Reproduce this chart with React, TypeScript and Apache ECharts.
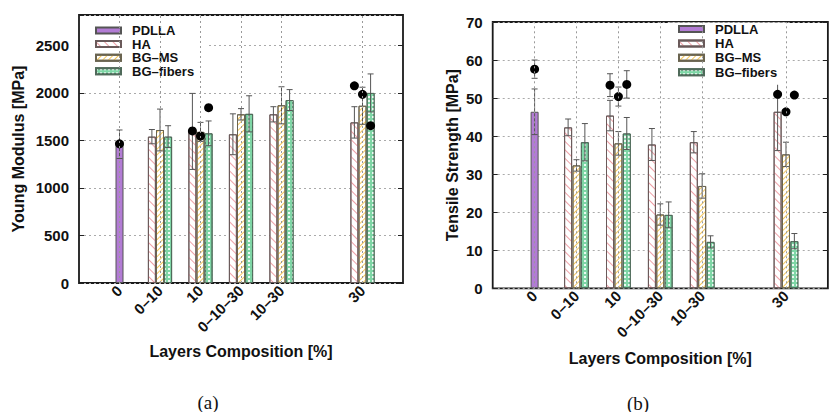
import React, { useEffect, useRef } from "react";
import * as echarts from "echarts";

// ---------- data ----------
const CATEGORIES = ["0", "0–10", "10", "0–10–30", "10–30", "30"];
const CAT_POS = [1, 2, 3, 4, 5, 7];
const SERIES_NAMES = ["PDLLA", "HA", "BG–MS", "BG–fibers"];

// Young modulus [MPa], aligned with CATEGORIES
const YM_PDLLA = [1460, null, null, null, null, null];
const YM_PDLLA_ERR = [150, null, null, null, null, null];
const YM_HA = [null, 1540, 1595, 1565, 1775, 1690];
const YM_HA_ERR = [null, 75, 400, 215, 80, 165];
const YM_BGMS = [null, 1610, 1590, 1775, 1870, 1865];
const YM_BGMS_ERR = [null, 220, 100, 60, 195, 195];
const YM_FIB = [null, 1540, 1575, 1780, 1925, 2000];
const YM_FIB_ERR = [null, 115, 130, 190, 110, 200];
// measured points (black dots)
const YM_DOT_PDLLA = [1465, null, null, null, null, null];
const YM_DOT_HA = [null, null, 1600, null, null, 2075];
const YM_DOT_BGMS = [null, null, 1547, null, null, 1985];
const YM_DOT_FIB = [null, null, 1845, null, null, 1655];

// Tensile strength [MPa]
const TS_PDLLA = [46.4, null, null, null, null, null];
const TS_PDLLA_ERR = [6, null, null, null, null, null];
const TS_HA = [null, 42.3, 45.4, 37.8, 38.4, 46.4];
const TS_HA_ERR = [null, 2.2, 4, 4.2, 2.8, 10.2];
const TS_BGMS = [null, 32.3, 38.1, 19.4, 26.9, 35.2];
const TS_BGMS_ERR = [null, 1.5, 3.1, 2.8, 3.2, 3.2];
const TS_FIB = [null, 38.4, 40.7, 19.3, 12.2, 12.4];
const TS_FIB_ERR = [null, 4.9, 4.2, 3.4, 1.6, 2.0];
const TS_DOT_PDLLA = [57.6, null, null, null, null, null];
const TS_DOT_PDLLA_ERR = [2.4, null, null, null, null, null];
const TS_DOT_HA = [null, null, 53.4, null, null, 51.0];
const TS_DOT_HA_ERR = [null, null, 3, null, null, null];
const TS_DOT_BGMS = [null, null, 50.4, null, null, 46.4];
const TS_DOT_BGMS_ERR = [null, null, 2.5, null, null, null];
const TS_DOT_FIB = [null, null, 53.6, null, null, 50.8];
const TS_DOT_FIB_ERR = [null, null, 3.6, null, null, null];

const YM_TICKS = [0, 500, 1000, 1500, 2000, 2500];
const TS_TICKS = [0, 10, 20, 30, 40, 50, 60, 70];

// ---------- style ----------
const FONT = "'Liberation Sans', Arial, Helvetica, sans-serif";
const BAR_STEP = 0.2;
const OFFSETS = [0, -1, 0, 1];
const BORDER = "#555";

const ITEM_STYLES: any[] = [
  { color: "#b27cd4", borderColor: BORDER, borderWidth: 1 },
  {
    color: "#ffffff",
    borderColor: "#6a5a5a",
    borderWidth: 1,
    decal: {
      symbol: "rect",
      symbolSize: 1,
      color: "rgba(232,120,130,0.7)",
      dashArrayX: [1, 0],
      dashArrayY: [1, 5],
      rotation: Math.PI / 4,
    },
  },
  {
    color: "#ffffff",
    borderColor: "#6a6450",
    borderWidth: 1,
    decal: {
      symbol: "rect",
      symbolSize: 1,
      color: "rgba(242,185,50,0.8)",
      dashArrayX: [1, 0],
      dashArrayY: [1, 2.6],
      rotation: -Math.PI / 4,
    },
  },
  {
    color: "#7fd6a6",
    borderColor: "#4f6a5a",
    borderWidth: 1,
    decal: {
      symbol: "rect",
      symbolSize: 1,
      color: "rgba(255,255,255,0.85)",
      dashArrayX: [1.5, 1.5],
      dashArrayY: [1.5, 1.5],
      rotation: 0,
    },
  },
];

function labelFor(v: number) {
  const i = CAT_POS.indexOf(v);
  return i >= 0 ? CATEGORIES[i] : "";
}

function buildChart(
  idx: number,
  vals: any[][],
  errs: any[][],
  dots: any[][],
  dotErrs: any[][]
) {
  const series: any[] = [];
  // vertical grid lines (behind bars)
  series.push({
    type: "line",
    xAxisIndex: idx,
    yAxisIndex: idx * 2,
    data: [],
    z: 1,
    silent: true,
    markLine: {
      silent: true,
      symbol: ["none", "none"],
      label: { show: false },
      lineStyle: { type: [2, 3], color: "#999", width: 1 },
      data: CAT_POS.map((p) => ({ xAxis: p })),
    },
  });
  const errData: any[] = [];
  const dotData: any[] = [];
  SERIES_NAMES.forEach((name, s) => {
    const data: any[] = [];
    vals[s].forEach((v, c) => {
      if (v == null) return;
      const x = CAT_POS[c] + OFFSETS[s] * BAR_STEP;
      data.push([x, v]);
      const e = errs[s][c];
      if (e != null) errData.push([x, v - e, v + e]);
    });
    dots[s].forEach((v, c) => {
      if (v == null) return;
      const x = CAT_POS[c] + OFFSETS[s] * BAR_STEP;
      dotData.push([x, v]);
      const e = dotErrs[s][c];
      if (e != null) errData.push([x, v - e, v + e]);
    });
    series.push({
      name,
      type: "bar",
      xAxisIndex: idx,
      yAxisIndex: idx * 2,
      barWidth: 8,
      barGap: "-100%",
      z: 2,
      itemStyle: ITEM_STYLES[s],
      data,
    });
  });
  series.push({
    type: "custom",
    xAxisIndex: idx,
    yAxisIndex: idx * 2,
    z: 3,
    silent: true,
    encode: { x: 0, y: [1, 2] },
    data: errData,
    renderItem: (params: any, api: any) => {
      const x = api.value(0);
      const p1 = api.coord([x, api.value(2)]);
      const p2 = api.coord([x, api.value(1)]);
      const hw = 3;
      const st = { stroke: "#555", lineWidth: 1 };
      return {
        type: "group",
        children: [
          { type: "line", shape: { x1: p1[0], y1: p1[1], x2: p2[0], y2: p2[1] }, style: st },
          { type: "line", shape: { x1: p1[0] - hw, y1: p1[1], x2: p1[0] + hw, y2: p1[1] }, style: st },
          { type: "line", shape: { x1: p2[0] - hw, y1: p2[1], x2: p2[0] + hw, y2: p2[1] }, style: st },
        ],
      };
    },
  });
  series.push({
    type: "scatter",
    xAxisIndex: idx,
    yAxisIndex: idx * 2,
    z: 4,
    symbolSize: 9,
    itemStyle: { color: "#000", opacity: 1 },
    data: dotData,
  });
  return series;
}

export default function App() {
  const ref = useRef<HTMLDivElement>(null);
  useEffect(() => {
    if (!ref.current) return;
    const chart = echarts.init(ref.current, null, { renderer: "svg" });

    const grids = [
      { left: 79, top: 15, width: 324, height: 268 },
      { left: 492.7, top: 22, width: 338.3, height: 266.3 },
    ].map((g) => ({
      ...g,
      show: true,
      borderColor: "#1a1a1a",
      borderWidth: 1.8,
      backgroundColor: "#fff",
    }));

    const xAxis = [0, 1].map((i) => ({
      type: "value",
      gridIndex: i,
      min: 0,
      max: 8,
      interval: 1,
      axisLine: { show: false },
      axisTick: { show: false },
      splitLine: { show: false },
      name: "Layers Composition [%]",
      nameLocation: "middle",
      nameGap: i === 0 ? 60 : 62,
      nameTextStyle: { fontFamily: FONT, fontWeight: "bold", fontSize: 16, color: "#111" },
      axisLabel: {
        rotate: 45,
        margin: 5,
        fontFamily: FONT,
        fontWeight: "bold",
        fontSize: 15,
        color: "#111",
        formatter: (v: number) => labelFor(v),
      },
    }));

    const yBase = (i: number, max: number, interval: number, name: string, gap: number, ticks: number[]) => [
      {
        type: "value",
        gridIndex: i,
        min: 0,
        max,
        interval,
        name,
        nameLocation: "middle",
        nameGap: gap,
        nameTextStyle: { fontFamily: FONT, fontWeight: "bold", fontSize: 16, color: "#111" },
        axisLine: { show: false },
        axisTick: { show: true, inside: true, length: 5, lineStyle: { color: "#222" } },
        splitLine: { show: true, lineStyle: { type: [2, 3], color: "#aaa", width: 1 } },
        axisLabel: {
          margin: 10,
          fontFamily: FONT,
          fontWeight: "bold",
          fontSize: 15,
          color: "#111",
          formatter: (v: number) => (ticks.indexOf(v) >= 0 ? String(v) : ""),
        },
      },
      {
        type: "value",
        gridIndex: i,
        position: "right",
        min: 0,
        max,
        interval,
        axisLine: { show: false },
        axisTick: { show: true, inside: true, length: 5, lineStyle: { color: "#222" } },
        splitLine: { show: false },
        axisLabel: { show: false },
      },
    ];

    const yAxis = [
      ...yBase(0, 2820, 500, "Young Modulus [MPa]", 53, YM_TICKS),
      ...yBase(1, 70, 10, "Tensile Strength [MPa]", 32, TS_TICKS),
    ];

    const legendCommon = {
      orient: "vertical",
      icon: "rect",
      itemWidth: 25,
      itemHeight: 6,
      backgroundColor: "#fff",
      data: SERIES_NAMES,
      selectedMode: false,
      textStyle: {
        fontFamily: FONT,
        fontWeight: "bold",
        fontSize: 13,
        color: "#111",
        padding: [0, 0, 0, 6],
      },
    };

    const series = [
      ...buildChart(
        0,
        [YM_PDLLA, YM_HA, YM_BGMS, YM_FIB],
        [YM_PDLLA_ERR, YM_HA_ERR, YM_BGMS_ERR, YM_FIB_ERR],
        [YM_DOT_PDLLA, YM_DOT_HA, YM_DOT_BGMS, YM_DOT_FIB],
        [[], [], [], []].map(() => [null, null, null, null, null, null])
      ),
      ...buildChart(
        1,
        [TS_PDLLA, TS_HA, TS_BGMS, TS_FIB],
        [TS_PDLLA_ERR, TS_HA_ERR, TS_BGMS_ERR, TS_FIB_ERR],
        [TS_DOT_PDLLA, TS_DOT_HA, TS_DOT_BGMS, TS_DOT_FIB],
        [TS_DOT_PDLLA_ERR, TS_DOT_HA_ERR, TS_DOT_BGMS_ERR, TS_DOT_FIB_ERR]
      ),
    ];

    chart.setOption({
      animation: false,
      backgroundColor: "#fff",
      grid: grids,
      xAxis,
      yAxis,
      legend: [
        { ...legendCommon, left: 80, top: 16, itemGap: 0.6, padding: [8, 14, 5, 15] },
        { ...legendCommon, left: 668, top: 22.5, itemGap: 1.4, padding: [0, 10, 6, 10] },
      ],
      graphic: [
        {
          type: "text",
          x: 208,
          y: 402,
          style: {
            text: "(a)",
            font: "19px 'Liberation Serif', 'Times New Roman', serif",
            fill: "#111",
            align: "center",
            verticalAlign: "middle",
          },
        },
        {
          type: "text",
          x: 638,
          y: 403,
          style: {
            text: "(b)",
            font: "19px 'Liberation Serif', 'Times New Roman', serif",
            fill: "#111",
            align: "center",
            verticalAlign: "middle",
          },
        },
      ],
      series,
    });
    return () => chart.dispose();
  }, []);
  return (
    <div
      ref={ref}
      style={{ position: "fixed", left: 0, top: 0, width: 830, height: 412, background: "#fff" }}
    />
  );
}
